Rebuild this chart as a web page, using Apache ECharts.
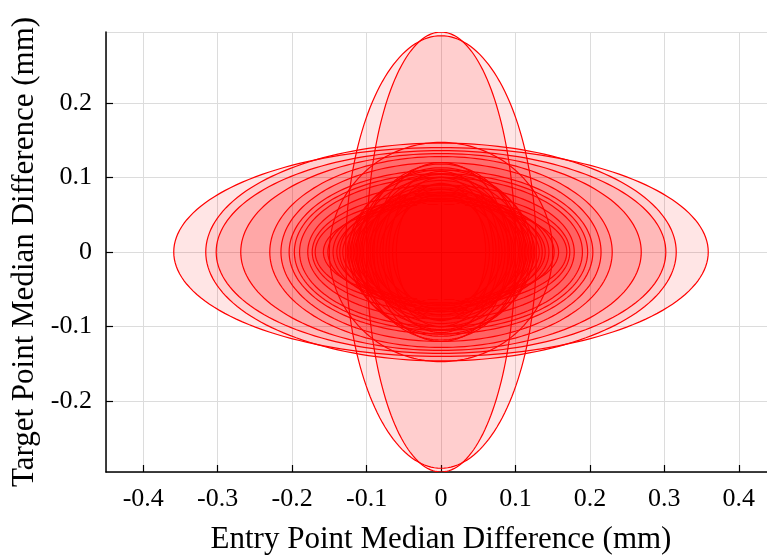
<!DOCTYPE html>
<html>
<head>
<meta charset="utf-8">
<script src="https://cdn.jsdelivr.net/npm/echarts@6/dist/echarts.min.js"></script>
<style>
  html, body { margin: 0; padding: 0; background: #fff; }
  #chart { width: 767px; height: 556px; }
</style>
</head>
<body>
<div id="chart"></div>
<script>
// one entry per ellipse: semi-axes along x and y (mm), all centred on the origin
const semiX = [0.359, 0.316, 0.302, 0.269, 0.230, 0.215, 0.204, 0.197, 0.190, 0.179, 0.173, 0.169,
  0.158, 0.152, 0.145, 0.140, 0.136, 0.132, 0.126, 0.150, 0.128, 0.100,
  0.124, 0.122, 0.120, 0.118, 0.116, 0.114, 0.112, 0.110, 0.108, 0.106, 0.104, 0.100,
  0.098, 0.095, 0.092, 0.090, 0.086, 0.082, 0.078, 0.074, 0.070, 0.065, 0.060]
const semiY = [0.140, 0.146, 0.136, 0.132, 0.128, 0.120, 0.110, 0.105, 0.100, 0.090, 0.080, 0.072,
  0.064, 0.070, 0.076, 0.068, 0.074, 0.066, 0.080, 0.147, 0.290, 0.295,
  0.105, 0.075, 0.110, 0.084, 0.070, 0.100, 0.113, 0.090, 0.078, 0.118, 0.086, 0.096,
  0.072, 0.104, 0.080, 0.120, 0.090, 0.070, 0.108, 0.084, 0.100, 0.078, 0.092]
const centerX = semiX.map(() => 0)
const centerY = semiX.map(() => 0)
const xTicks = [-0.4, -0.3, -0.2, -0.1, 0, 0.1, 0.2, 0.3, 0.4]
const yTicks = [-0.2, -0.1, 0, 0.1, 0.2]

const font = 'Liberation Serif'
const chart = echarts.init(document.getElementById('chart'))

function ellipse(params, api) {
  const i = api.value(0)
  const points = []
  for (let k = 0; k <= 180; k++) {
    const t = (k / 180) * Math.PI * 2
    points.push(api.coord([centerX[i] + semiX[i] * Math.cos(t), centerY[i] + semiY[i] * Math.sin(t)]))
  }
  return {
    type: 'polygon',
    shape: { points },
    style: { fill: 'rgba(255,0,0,0.1)', stroke: '#ff0000', lineWidth: 1.2 }
  }
}

function axis(name, range, ticks, nameGap, labelMargin) {
  return {
    type: 'value',
    min: -range,
    max: range,
    minInterval: 0.1,
    maxInterval: 0.1,
    splitNumber: ticks.length + 1,
    name,
    nameLocation: 'middle',
    nameGap,
    nameTextStyle: { fontFamily: font, fontSize: 31, color: '#000' },
    axisLine: { show: true, onZero: false, lineStyle: { color: '#000', width: 1.5 } },
    axisTick: { show: true, inside: true, length: 7, lineStyle: { color: '#000', width: 1.2 } },
    axisLabel: {
      fontFamily: font, fontSize: 26, color: '#000', margin: labelMargin,
      showMinLabel: false, showMaxLabel: false,
      formatter: v => ticks.some(t => Math.abs(t - v) < 1e-9) ? String(Math.round(v * 10) / 10) : ''
    },
    splitLine: { show: true, lineStyle: { color: '#dcdcdc', width: 1 } }
  }
}

chart.setOption({
  animation: false,
  // the plot runs past the right edge of the picture, as in the original
  grid: { left: 106, top: 32, width: 670, height: 440, outerBoundsMode: 'none', containLabel: false },
  xAxis: axis('Entry Point Median Difference (mm)', 0.45, xTicks, 52, 14),
  yAxis: axis('Target Point Median Difference (mm)', 0.295, yTicks, 66, 14),
  series: [{
    type: 'custom',
    renderItem: ellipse,
    clip: true,
    data: semiX.map((_, i) => [i])
  }]
})
</script>
</body>
</html>
